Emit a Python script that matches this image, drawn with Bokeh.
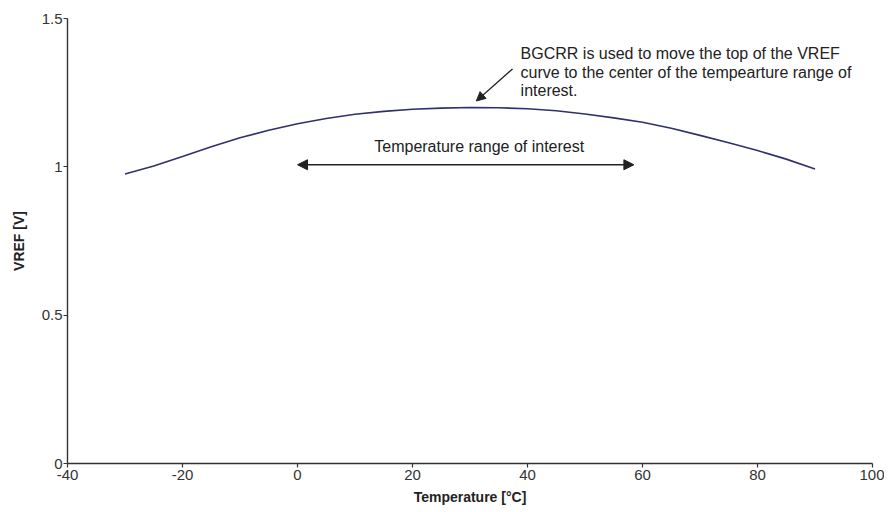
from bokeh.plotting import figure
from bokeh.models import Range1d, Arrow, NormalHead, Label, FixedTicker
from bokeh.embed import file_html
from bokeh.resources import INLINE

# Data
temperature = [-30, -25, -20, -15, -10, -5, 0, 5, 10, 15, 20, 25, 30, 35, 40,
               45, 50, 55, 60, 65, 70, 75, 80, 85, 90]
vref = [0.976, 1.003, 1.035, 1.068, 1.098, 1.123, 1.145, 1.163, 1.177, 1.187,
        1.194, 1.198, 1.200, 1.199, 1.196, 1.189, 1.178, 1.165, 1.150, 1.130,
        1.106, 1.081, 1.055, 1.026, 0.993]
x_ticks = [-40, -20, 0, 20, 40, 60, 80, 100]
y_ticks = [0, 0.5, 1, 1.5]

range_start, range_end, range_y = 0, 58.5, 1.007
range_label = "Temperature range of interest"
note_lines = ["BGCRR is used to move the top of the VREF",
              "curve to the center of the tempearture range of",
              "interest."]

FONT = "Liberation Sans"
TXT = "#222222"

p = figure(width=884, height=507, output_backend="svg", toolbar_location=None,
           x_range=Range1d(-40, 100), y_range=Range1d(0, 1.5),
           min_border_left=67, min_border_right=12, min_border_top=18,
           min_border_bottom=44)
p.outline_line_color = None
p.xgrid.visible = False
p.ygrid.visible = False

p.line(temperature, vref, line_color="#30306e", line_width=1.6)

for ax in (p.xaxis[0], p.yaxis[0]):
    ax.axis_line_color = "#333333"
    ax.axis_line_width = 1.4
    ax.major_tick_line_color = "#333333"
    ax.major_tick_line_width = 1.2
    ax.major_tick_in = 0
    ax.major_tick_out = 4
    ax.minor_tick_line_color = None
    ax.major_label_text_font = FONT
    ax.major_label_text_font_size = "15px"
    ax.major_label_text_color = "#333333"
    ax.axis_label_text_font = FONT
    ax.axis_label_text_font_size = "14px"
    ax.axis_label_text_font_style = "bold"
    ax.axis_label_text_color = TXT

p.xaxis.ticker = FixedTicker(ticks=x_ticks)
p.yaxis.ticker = FixedTicker(ticks=y_ticks)
p.xaxis.major_label_overrides = {t: str(t) for t in x_ticks}
p.yaxis.major_label_overrides = {0: "0", 0.5: "0.5", 1: "1", 1.5: "1.5"}
p.xaxis.axis_label = "Temperature [°C]"
p.yaxis.axis_label = "VREF [V]"
p.xaxis.major_label_standoff = 2
p.yaxis.major_label_standoff = 1
p.xaxis.axis_label_standoff = 6
p.yaxis.axis_label_standoff = 12

# Double-headed range arrow
p.add_layout(Arrow(x_start=range_start, y_start=range_y, x_end=range_end, y_end=range_y,
                   line_color="#222222", line_width=1.3,
                   start=NormalHead(size=10, fill_color="#222222", line_color="#222222"),
                   end=NormalHead(size=10, fill_color="#222222", line_color="#222222")))
p.add_layout(Label(x=31.6, y=1.067, text=range_label,
                   text_font=FONT, text_font_size="16px", text_color=TXT,
                   text_align="center", text_baseline="middle"))

# Note arrow
p.add_layout(Arrow(x_start=37.4, y_start=1.330, x_end=31.1, y_end=1.222,
                   line_color="#222222", line_width=1.3,
                   end=NormalHead(size=9, fill_color="#222222", line_color="#222222")))
for i, line in enumerate(note_lines):
    p.add_layout(Label(x=38.8, y=1.381 - i * 0.0623, text=line,
                       text_font=FONT, text_font_size="16px", text_color=TXT,
                       text_align="left", text_baseline="middle"))

open("out.html", "w").write(file_html(p, INLINE))
